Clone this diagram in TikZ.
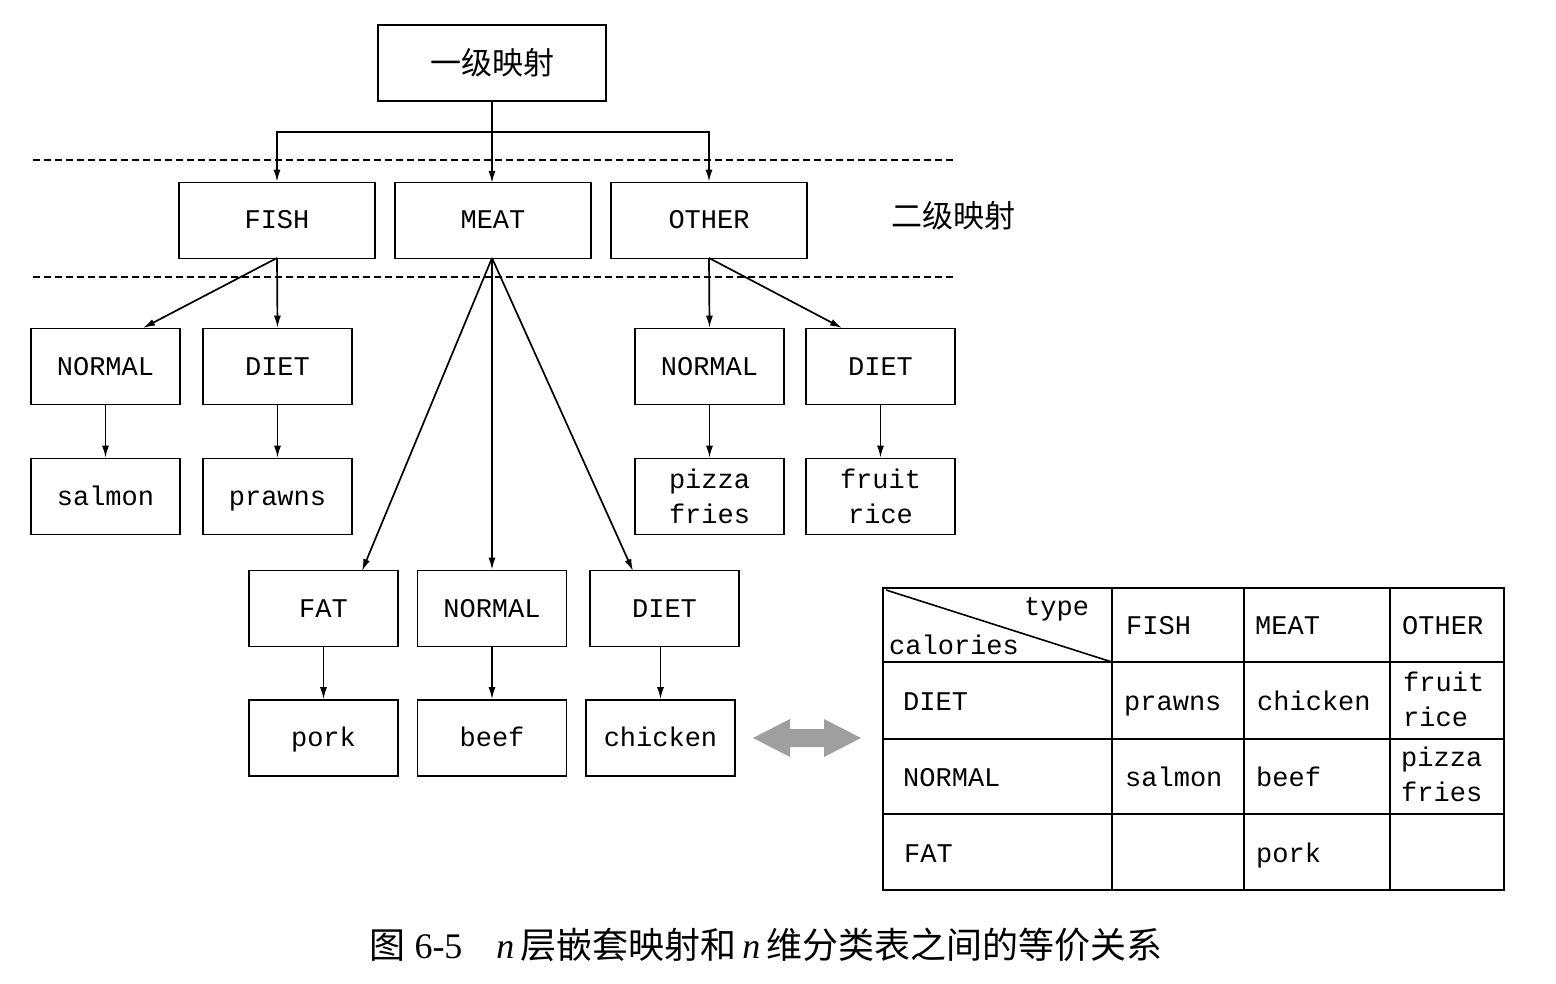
\documentclass[tikz,border=0pt]{standalone}
\usepackage{fontspec}
\setmainfont{Liberation Serif}
\setmonofont{Liberation Mono}
\newfontfamily\cjk{Noto Sans CJK SC}
\usetikzlibrary{arrows.meta}
\begin{document}
\begin{tikzpicture}[x=1pt,y=-1pt,
  box/.style={draw,line width=1.6pt,inner sep=0pt,minimum height=76pt,minimum width=149pt,font=\fontsize{27}{35}\selectfont\ttfamily,align=center},
  one/.style={text height=21pt,text depth=4pt},
  wbox/.style={box,one,minimum width=196pt},
  conn/.style={line width=1.7pt,-{Latex[length=12pt,width=7pt]}},
  sep/.style={line width=1.4pt,dash pattern=on 7pt off 4pt},
  cell/.style={anchor=west,inner sep=0pt,font=\fontsize{27}{35}\selectfont\ttfamily,align=left},
  cjkt/.style={font=\fontsize{31}{35}\selectfont\cjk}]
\useasboundingbox (0,0) rectangle (1556,984);
% level 1
\node[box,minimum width=228pt] (top) at (492,63) {\fontsize{31}{35}\selectfont\cjk 一级映射};
\draw[sep] (33,160) -- (955,160);
\draw[sep] (33,277) -- (955,277);
% level 2
\node[wbox] (fish) at (277,220.5) {FISH};
\node[wbox] (meat) at (493,220.5) {MEAT};
\node[wbox] (other) at (709,220.5) {OTHER};
\node[cjkt,anchor=center] (lvl2) at (953,216) {二级映射};
\coordinate (split) at (492,132);
\draw[line width=1.7pt] (top.south) -- (split);
\draw[conn] (split) -| (fish.north);
\draw[conn] (split) -- (492,183);
\draw[conn] (split) -| (other.north);
% fish branch
\node[box,one] (fnormal) at (105.5,366.5) {NORMAL};
\node[box,one] (fdiet) at (277.5,366.5) {DIET};
\node[box,one] (salmon) at (105.5,496.5) {salmon};
\node[box,one] (prawns) at (277.5,496.5) {prawns};
\coordinate (fishb) at (277,258);
\draw[conn] (fishb) -- (143,328);
\draw[conn] (fishb) -- (fdiet.north);
\draw[conn] (fnormal) -- (salmon);
\draw[conn] (fdiet) -- (prawns);
% other branch
\node[box,one] (onormal) at (709.5,366.5) {NORMAL};
\node[box,one] (odiet) at (880.5,366.5) {DIET};
\node[box] (pizza) at (709.5,496.5) {pizza\\fries};
\node[box] (fruit) at (880.5,496.5) {fruit\\rice};
\coordinate (otherb) at (709,258);
\draw[conn] (otherb) -- (onormal.north);
\draw[conn] (otherb) -- (842,328);
\draw[conn] (onormal) -- (pizza);
\draw[conn] (odiet) -- (fruit);
% meat branch
\node[box,one] (fat) at (323.5,608.5) {FAT};
\node[box,one] (mnormal) at (492,608.5) {NORMAL};
\node[box,one] (mdiet) at (664.5,608.5) {DIET};
\node[box,one] (pork) at (323.5,738) {pork};
\node[box,one] (beef) at (492,738) {beef};
\node[box,one] (chicken) at (660.5,738) {chicken};
\coordinate (meatb) at (492,258);
\draw[conn] (meatb) -- (362,571);
\draw[conn] (meatb) -- (mnormal.north);
\draw[conn] (meatb) -- (633,571);
\draw[conn] (323.5,646.5) -- (pork.north);
\draw[conn] (mnormal) -- (beef);
\draw[conn] (660.5,646.5) -- (chicken.north);
% double arrow
\fill[gray!75] (753,738) -- (790,719) -- (790,729) -- (824,729) -- (824,719) -- (861,738) -- (824,757) -- (824,747) -- (790,747) -- (790,757) -- cycle;
% table
\draw[line width=1.6pt] (883,588) rectangle (1504,890);
\foreach \x in {1112,1244,1390} \draw[line width=1.6pt] (\x,588) -- (\x,890);
\foreach \y in {662,739,814} \draw[line width=1.6pt] (883,\y) -- (1504,\y);
\draw[line width=1.6pt] (886,590) -- (1112,662);
\node[cell,one] (ttype) at (1024,607) {type};
\node[cell,one] (tcal) at (889,646) {calories};
\node[cell,one] (hfish) at (1126,626) {FISH};
\node[cell,one] (hmeat) at (1255,626) {MEAT};
\node[cell,one] (hother) at (1402,626) {OTHER};
\node[cell,one] (rdiet) at (903,702) {DIET};
\node[cell,one] (rnormal) at (903,778) {NORMAL};
\node[cell,one] (rfat) at (904,854) {FAT};
\node[cell,one] (c11) at (1124,702) {prawns};
\node[cell,one] (c12) at (1257,702) {chicken};
\node[cell] (c13) at (1403,699.5) {fruit\\rice};
\node[cell,one] (c21) at (1125,778) {salmon};
\node[cell,one] (c22) at (1256,778) {beef};
\node[cell] (c23) at (1401,774.5) {pizza\\fries};
\node[cell,one] (c32) at (1256,854) {pork};
% caption
\node[font=\fontsize{36}{40}\selectfont] (cap) at (766,945) {{\cjk 图} 6-5\hspace{34pt}\textit{n}\,{\cjk 层嵌套映射和}\,\textit{n}\,{\cjk 维分类表之间的等价关系}};
\end{tikzpicture}
\end{document}
